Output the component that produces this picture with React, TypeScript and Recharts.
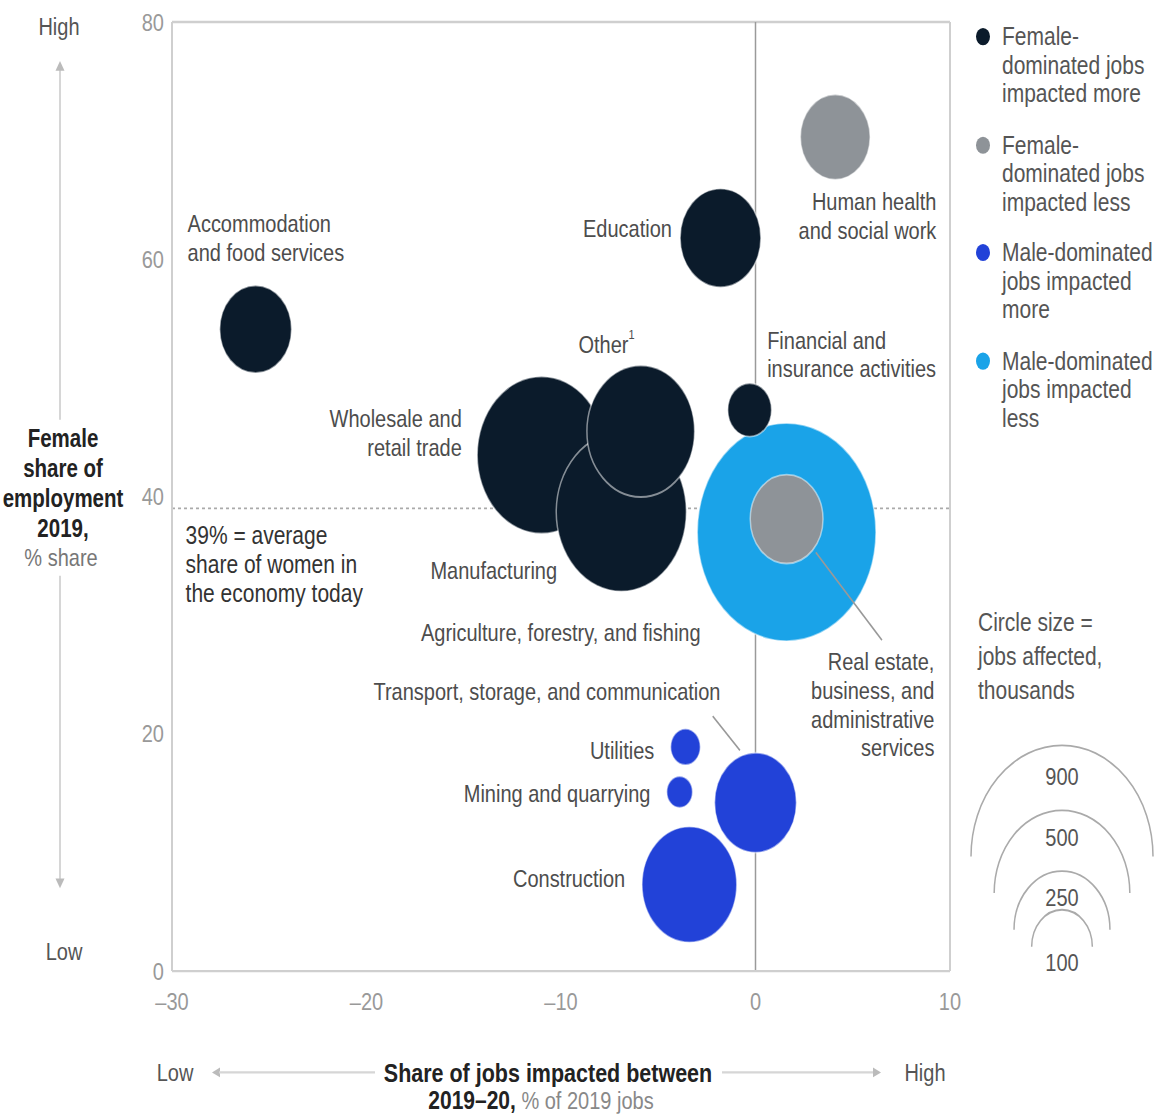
import React from 'react'
import { ScatterChart, Scatter, XAxis, YAxis, ZAxis, ReferenceLine, ReferenceDot } from 'recharts'

const FONT = '"Liberation Sans", Arial, sans-serif'

// the reference picture is stretched vertically, so the chart is drawn flat and scaled
const STRETCH = 1.22
const WIDTH = 1163
const HEIGHT = 913
const MARGIN = { top: 18, right: 213, bottom: 77, left: 112 }

// sectors: x = share of jobs impacted 2019-20 (%), y = female share of employment (%), z = jobs affected (thousands)
const SECTORS = [
  'Agriculture, forestry, and fishing',
  'Accommodation and food services',
  'Education',
  'Financial and insurance activities',
  'Wholesale and retail trade',
  'Manufacturing',
  'Other',
  'Construction',
  'Utilities',
  'Mining and quarrying',
  'Transport, storage, and communication',
  'Human health and social work',
  'Real estate, business, and administrative services',
]
const IMPACT = [1.6, -25.7, -1.8, -0.3, -11.0, -6.9, -5.9, -3.4, -3.6, -3.9, 0.0, 4.1, 1.6]
const FEMALE_SHARE = [37.0, 54.1, 61.8, 47.3, 43.5, 38.7, 45.5, 7.3, 18.9, 15.1, 14.2, 70.3, 38.1]
const JOBS = [867, 140, 177, 52, 450, 460, 315, 244, 24, 18, 182, 132, 144]
const GROUP = [
  'maleLess',
  'femaleMore', 'femaleMore', 'femaleMore', 'femaleMore', 'femaleMore', 'femaleMore',
  'maleMore', 'maleMore', 'maleMore', 'maleMore',
  'femaleLess', 'femaleLess',
]

const GROUPS = [
  { key: 'femaleMore', color: '#0b1b2b', lines: ['Female-', 'dominated jobs', 'impacted more'] },
  { key: 'femaleLess', color: '#8e9398', lines: ['Female-', 'dominated jobs', 'impacted less'] },
  { key: 'maleMore', color: '#2242d8', lines: ['Male-dominated', 'jobs impacted', 'more'] },
  { key: 'maleLess', color: '#1aa3e8', lines: ['Male-dominated', 'jobs impacted', 'less'] },
]
// light blue goes first so the grey circle sits on top of it
const DRAW_ORDER = ['maleLess', 'femaleMore', 'maleMore', 'femaleLess']

const X_TICKS = [-30, -20, -10, 0, 10]
const Y_TICKS = [0, 20, 40, 60, 80]
const AVERAGE_SHARE = 39
const SIZE_LEGEND = [900, 500, 250, 100]

const MAX_JOBS = 900
const MAX_RADIUS = 91

const ROWS = SECTORS.map((name, i) => ({
  name,
  impact: IMPACT[i],
  share: FEMALE_SHARE[i],
  jobs: JOBS[i],
  group: GROUP[i],
}))

// leader lines, in data units
const LEADERS = [
  [{ impact: -2.2, share: 21.5 }, { impact: -0.8, share: 18.6 }],
  [{ impact: 3.1, share: 35.3 }, { impact: 6.5, share: 27.9 }],
]

const ANNOTATIONS = [
  { x: -29.2, y: 63.0, anchor: 'start', lines: ['Accommodation', 'and food services'] },
  { x: -4.3, y: 62.6, anchor: 'end', lines: ['Education'] },
  { x: 9.3, y: 64.9, anchor: 'end', lines: ['Human health', 'and social work'] },
  { x: -9.1, y: 52.8, anchor: 'start', lines: ['Other'], note: '1' },
  { x: 0.6, y: 53.2, anchor: 'start', lines: ['Financial and', 'insurance activities'] },
  { x: -15.1, y: 46.6, anchor: 'end', lines: ['Wholesale and', 'retail trade'] },
  { x: -29.3, y: 36.7, anchor: 'start', lines: ['39% = average', 'share of women in', 'the economy today'], big: true },
  { x: -10.2, y: 33.8, anchor: 'end', lines: ['Manufacturing'] },
  { x: -17.2, y: 28.6, anchor: 'start', lines: ['Agriculture, forestry, and fishing'] },
  { x: 9.2, y: 26.1, anchor: 'end', lines: ['Real estate,', 'business, and', 'administrative', 'services'] },
  { x: -1.8, y: 23.6, anchor: 'end', lines: ['Transport, storage, and communication'] },
  { x: -5.2, y: 18.6, anchor: 'end', lines: ['Utilities'] },
  { x: -5.4, y: 15.0, anchor: 'end', lines: ['Mining and quarrying'] },
  { x: -6.7, y: 7.8, anchor: 'end', lines: ['Construction'] },
]

const LINE = 23.5
const FRAME = '#cfcfcf'

const radiusFor = (jobs: number) => MAX_RADIUS * Math.sqrt(jobs / MAX_JOBS)
const fmtTick = (v: number) => (v < 0 ? '\u2013' + Math.abs(v) : String(v))

function Bubble(props: any) {
  const { cx, cy, size, color } = props
  if (cx == null || cy == null) return <g />
  const r = Math.sqrt(Math.max(size || 0, 0) / Math.PI)
  return <circle cx={cx} cy={cy} r={r} fill={color} stroke="#ffffff" strokeOpacity={0.5} strokeWidth={1.5} />
}

function AnnotationText({ cx, cy, a }: any) {
  return (
    <text
      x={cx}
      y={cy}
      textAnchor={a.anchor}
      dominantBaseline="central"
      fontFamily={FONT}
      fontSize={a.big ? 21 : 20}
      fill={a.big ? '#333' : '#4d4d4d'}
    >
      {a.lines.map((l: string, i: number) => (
        <tspan key={i} x={cx} dy={i === 0 ? 0 : LINE}>
          {l}
        </tspan>
      ))}
      {a.note && (
        <tspan fontSize={11} dy={-8}>
          {a.note}
        </tspan>
      )}
    </text>
  )
}

function YAxisTitle() {
  const titleY = [359, 384, 408, 433]
  return (
    <g fontFamily={FONT}>
      <text x={59} y={22} textAnchor="middle" dominantBaseline="central" fontSize={20} fill="#555">
        High
      </text>
      <line x1={60} y1={56} x2={60} y2={344} stroke="#d6d6d6" strokeWidth={2} />
      <path d="M60 50 L55.5 58 L64.5 58 Z" fill="#bbb" />
      <line x1={60} y1={472} x2={60} y2={722} stroke="#d6d6d6" strokeWidth={2} />
      <path d="M60 728 L55.5 720 L64.5 720 Z" fill="#bbb" />
      <text x={64} y={780} textAnchor="middle" dominantBaseline="central" fontSize={20} fill="#555">
        Low
      </text>
      <text textAnchor="middle" dominantBaseline="central" fontSize={20.5} fontWeight="bold" fill="#222">
        {['Female', 'share of', 'employment', '2019,'].map((t, i) => (
          <tspan key={t} x={63} y={titleY[i]}>
            {t}
          </tspan>
        ))}
      </text>
      <text x={61} y={457} textAnchor="middle" dominantBaseline="central" fontSize={20} fill="#777">
        % share
      </text>
    </g>
  )
}

function XAxisTitle() {
  const y = 879
  return (
    <g fontFamily={FONT}>
      <text x={175} y={y} textAnchor="middle" dominantBaseline="central" fontSize={20} fill="#555">
        Low
      </text>
      <path d={`M212 ${y} L220 ${y - 4} L220 ${y + 4} Z`} fill="#bbb" />
      <line x1={219} y1={y} x2={375} y2={y} stroke="#d6d6d6" strokeWidth={2} />
      <text x={548} y={y} textAnchor="middle" dominantBaseline="central" fontSize={21.5} fontWeight="bold" fill="#222">
        Share of jobs impacted between
      </text>
      <line x1={722} y1={y} x2={874} y2={y} stroke="#d6d6d6" strokeWidth={2} />
      <path d={`M881 ${y} L873 ${y - 4} L873 ${y + 4} Z`} fill="#bbb" />
      <text x={925} y={y} textAnchor="middle" dominantBaseline="central" fontSize={20} fill="#555">
        High
      </text>
      <text x={541} y={902} textAnchor="middle" dominantBaseline="central" fontSize={21}>
        <tspan fontWeight="bold" fill="#222">
          2019–20,
        </tspan>
        <tspan fill="#888" fontSize={20}>
          {' % of 2019 jobs'}
        </tspan>
      </text>
    </g>
  )
}

function SideLegend() {
  const arcBase = [702, 732, 762, 776]
  const arcLabel = [637, 687, 736, 789]
  const cx = 1062
  return (
    <>
      <div
        style={{
          position: 'absolute',
          left: 976,
          top: 18,
          width: 187,
          fontFamily: FONT,
          fontSize: 21,
          lineHeight: LINE + 'px',
          color: '#555',
        }}
      >
        {GROUPS.map((g) => (
          <div key={g.key} style={{ display: 'flex', marginBottom: 18 }}>
            <span
              style={{
                width: 14,
                height: 14,
                borderRadius: '50%',
                background: g.color,
                marginTop: 5,
                marginRight: 12,
                flexShrink: 0,
              }}
            />
            <div>
              {g.lines.map((l) => (
                <div key={l} style={{ whiteSpace: 'nowrap' }}>
                  {l}
                </div>
              ))}
            </div>
          </div>
        ))}
      </div>
      <svg width={203} height={433} style={{ position: 'absolute', left: 960, top: 480 }}>
        <g transform="translate(-960,-480)" fontFamily={FONT} fill="#555">
          {['Circle size =', 'jobs affected,', 'thousands'].map((t, i) => (
            <text key={t} x={978} y={510 + i * 28} dominantBaseline="central" fontSize={21}>
              {t}
            </text>
          ))}
          {SIZE_LEGEND.map((v, i) => {
            const r = radiusFor(v)
            const b = arcBase[i]
            return (
              <g key={v}>
                <path d={`M${cx - r} ${b} A${r} ${r} 0 0 1 ${cx + r} ${b}`} fill="none" stroke="#aaa" strokeWidth={1.5} />
                <text x={cx} y={arcLabel[i]} textAnchor="middle" dominantBaseline="central" fontSize={20} fill="#555">
                  {v}
                </text>
              </g>
            )
          })}
        </g>
      </svg>
    </>
  )
}

export default function App() {
  const series = DRAW_ORDER.map((key) => ({
    group: GROUPS.find((g) => g.key === key)!,
    data: ROWS.filter((r) => r.group === key),
  }))

  return (
    <div
      style={{
        position: 'absolute',
        left: 0,
        top: 0,
        width: WIDTH,
        height: HEIGHT,
        transform: `scaleY(${STRETCH})`,
        transformOrigin: '0 0',
        fontFamily: FONT,
        background: '#fff',
      }}
    >
      <ScatterChart width={WIDTH} height={HEIGHT} margin={MARGIN}>
        <XAxis
          type="number"
          dataKey="impact"
          domain={[-30, 10]}
          ticks={X_TICKS}
          tickFormatter={fmtTick}
          tick={{ fill: '#999', fontSize: 20 }}
          tickLine={false}
          tickMargin={12}
          axisLine={{ stroke: FRAME, strokeWidth: 2 }}
          height={40}
          label={<XAxisTitle />}
        />
        <YAxis
          type="number"
          dataKey="share"
          domain={[0, 80]}
          ticks={Y_TICKS}
          tick={{ fill: '#999', fontSize: 20 }}
          tickLine={false}
          axisLine={{ stroke: FRAME, strokeWidth: 2 }}
          width={60}
          label={<YAxisTitle />}
        />
        <ZAxis type="number" dataKey="jobs" domain={[0, MAX_JOBS]} range={[0, Math.PI * MAX_RADIUS * MAX_RADIUS]} />

        <ReferenceLine y={80} stroke={FRAME} strokeWidth={2} />
        <ReferenceLine x={10} stroke={FRAME} strokeWidth={2} />
        <ReferenceLine y={AVERAGE_SHARE} stroke="#aaa" strokeWidth={1.5} strokeDasharray="3 3" />
        <ReferenceLine x={0} stroke="#9a9a9a" strokeWidth={1.5} />

        {series.map((s) => (
          <Scatter
            key={s.group.key}
            name={s.group.key}
            data={s.data}
            fill={s.group.color}
            shape={(p: any) => <Bubble {...p} color={s.group.color} />}
            isAnimationActive={false}
          />
        ))}

        {LEADERS.map((seg, i) => (
          <Scatter
            key={'leader' + i}
            data={seg}
            fill="#999"
            line={{ stroke: '#999', strokeWidth: 1.5 }}
            shape={() => <g />}
            isAnimationActive={false}
          />
        ))}

        {ANNOTATIONS.map((a) => (
          <ReferenceDot
            key={a.lines[0]}
            x={a.x}
            y={a.y}
            r={0}
            shape={(p: any) => <AnnotationText {...p} a={a} />}
          />
        ))}
      </ScatterChart>
      <SideLegend />
    </div>
  )
}
